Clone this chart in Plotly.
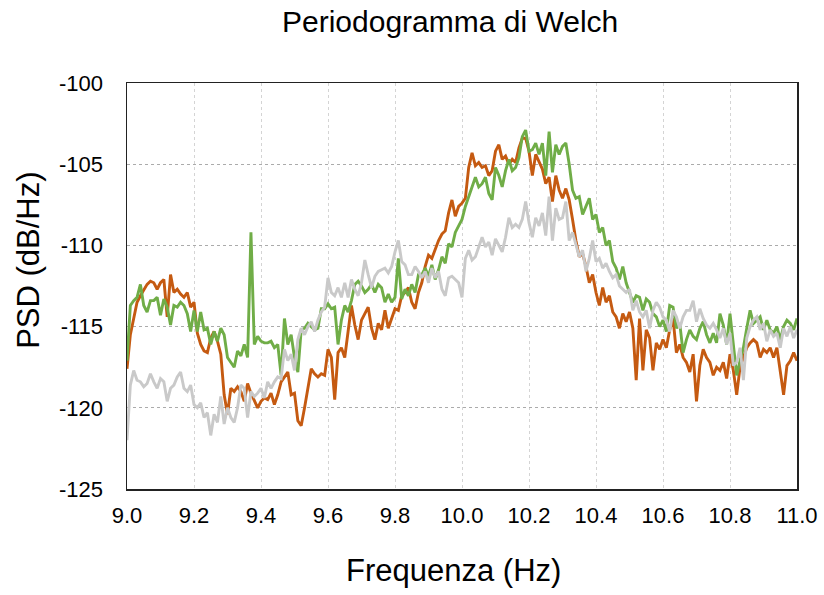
import numpy as np
import plotly.graph_objects as go

# Frequency bins (Hz), 0.01 Hz spacing
freq = np.round(np.linspace(9.0, 11.0, 201), 3)

# PSD values (dB/Hz)
psd_orange = [
    -117.6, -115.5, -114.5, -113.5, -113.1, -112.7, -112.4, -112.2, -112.3, -112.7,
    -112.3, -112.1, -114.4, -111.8, -112.9, -112.7, -113.0, -113.2, -112.9, -113.8,
    -113.5, -115.4, -116.1, -116.5, -116.6, -115.7, -115.3, -115.9, -116.7, -119.2,
    -120.4, -118.8, -119.0, -118.7, -119.0, -119.6, -118.5, -119.1, -119.6, -120.0,
    -119.6, -119.4, -119.5, -119.1, -119.8, -119.2, -118.4, -118.1, -117.8, -119.2,
    -119.1, -120.8, -121.1, -120.0, -118.8, -117.6, -117.9, -118.1, -117.9, -118.0,
    -116.4, -116.9, -119.5, -116.6, -116.3, -116.9, -115.3, -113.7, -114.9, -115.8,
    -114.6, -114.2, -113.8, -115.1, -115.8, -114.8, -115.2, -114.0, -115.1, -114.5,
    -113.9, -114.0, -113.1, -112.9, -112.6, -113.5, -113.9, -112.9, -112.3, -111.3,
    -110.6, -110.8, -110.2, -109.7, -109.3, -109.1, -108.0, -107.2, -108.2, -107.6,
    -107.4, -107.1, -105.2, -104.3, -105.1, -104.9, -105.2, -105.1, -105.7, -105.4,
    -104.2, -103.8, -104.7, -104.5, -105.0, -104.7, -104.9, -104.0, -103.4, -103.4,
    -104.2, -105.7, -104.4, -104.9, -105.3, -106.2, -105.8, -107.3, -105.7, -106.6,
    -107.1, -106.5, -107.2, -108.4, -109.7, -110.7, -110.5, -111.3, -112.3, -111.8,
    -112.9, -113.7, -112.6, -113.5, -113.1, -114.1, -114.4, -115.1, -114.2, -114.7,
    -114.1, -115.1, -118.3, -114.5, -117.7, -115.2, -115.7, -117.7, -116.0, -116.4,
    -115.8, -116.3, -115.2, -114.5, -116.6, -116.1, -116.9, -117.2, -117.8, -116.7,
    -119.6, -117.4, -116.4, -116.9, -117.2, -118.0, -117.5, -117.7, -117.2, -118.2,
    -116.7, -117.7, -119.2, -117.5, -116.9, -116.3, -116.0, -115.8, -116.0, -116.9,
    -116.4, -116.6, -116.3, -116.9, -116.3, -117.7, -119.2, -117.4, -117.1, -116.6,
    -117.1,
]

psd_green = [
    -117.1, -113.7, -113.4, -113.2, -112.4, -113.7, -114.1, -113.4, -113.4, -113.2,
    -114.3, -113.3, -113.8, -114.9, -113.7, -113.8, -113.5, -113.7, -114.2, -115.3,
    -114.0, -115.3, -114.1, -115.2, -115.1, -116.1, -115.3, -115.9, -115.1, -115.5,
    -116.9, -117.2, -117.5, -116.5, -116.8, -116.1, -116.9, -109.2, -116.1, -115.6,
    -115.9, -116.0, -116.0, -115.9, -116.3, -116.1, -118.0, -114.5, -116.1, -115.5,
    -116.9, -117.8, -115.2, -115.1, -114.8, -115.0, -115.2, -115.1, -113.9, -113.9,
    -113.6, -113.9, -113.8, -116.1, -114.6, -113.7, -114.1, -113.4, -112.4, -112.2,
    -112.5, -112.9, -112.7, -112.4, -112.9, -112.4, -112.6, -113.5, -113.0, -113.5,
    -113.2, -110.8, -113.3, -112.7, -113.1, -112.4, -112.9, -111.8, -111.8, -111.4,
    -111.9, -111.2, -112.1, -111.5, -110.7, -111.1, -109.9, -110.1, -109.2, -108.8,
    -108.4, -107.6, -107.0, -106.4, -105.8, -106.4, -106.2, -105.8, -106.8, -107.2,
    -105.2, -105.7, -106.4, -105.4, -104.7, -105.4, -105.2, -104.6, -103.3, -102.9,
    -104.2, -104.1, -103.7, -104.4, -103.7, -105.7, -103.0, -105.5, -103.8, -104.4,
    -103.9, -103.7, -105.0, -106.6, -107.1, -107.0, -108.1, -107.6, -107.1, -108.4,
    -108.1, -109.2, -108.9, -110.0, -109.7, -111.0, -111.4, -112.1, -111.3, -112.3,
    -112.9, -113.5, -113.1, -113.2, -114.0, -113.3, -113.5, -114.2, -114.4, -115.0,
    -114.6, -115.3, -113.7, -113.8, -115.1, -114.8, -116.6, -115.8, -115.2, -115.6,
    -115.8, -115.1, -114.7, -115.5, -116.0, -115.4, -116.0, -114.2, -114.9, -116.1,
    -114.2, -116.0, -118.0, -117.1, -116.3, -115.1, -114.0, -114.8, -114.6, -114.4,
    -115.2, -114.6, -115.2, -115.4, -115.0, -115.8, -115.0, -114.6, -114.8, -115.2,
    -114.5,
]

psd_gray = [
    -122.0, -118.6, -117.7, -118.3, -118.4, -118.7, -118.5, -117.9, -118.4, -118.8,
    -118.2, -118.4, -119.6, -118.8, -118.6, -118.1, -117.8, -118.8, -119.0, -118.6,
    -119.8, -120.0, -119.7, -120.6, -120.3, -121.7, -120.4, -120.9, -119.3, -121.0,
    -120.0, -120.6, -120.9, -120.0, -118.6, -118.8, -120.6, -119.0, -119.3, -119.1,
    -118.8, -119.4, -118.4, -118.8, -118.4, -118.1, -118.2, -116.4, -117.1, -116.7,
    -117.7, -115.8, -115.1, -115.5, -115.0, -114.7, -115.3, -114.6, -114.1, -113.8,
    -112.0, -112.9, -113.1, -112.6, -113.2, -112.3, -113.2, -112.1, -112.7, -113.1,
    -112.3, -110.9, -111.8, -112.6, -111.9, -111.6, -111.5, -111.4, -111.7, -111.3,
    -110.4, -109.7, -111.0, -111.2, -111.8, -111.8, -111.3, -111.6, -112.0, -111.6,
    -112.3, -111.4, -112.0, -111.6, -112.7, -113.1, -112.0, -111.9, -112.1, -112.3,
    -113.2, -110.8, -110.3, -110.9, -110.7, -110.1, -109.5, -110.1, -109.8, -110.6,
    -109.6, -110.0, -110.4, -109.5, -108.3, -108.9, -108.7, -108.9, -108.4, -107.3,
    -108.6, -109.5, -108.3, -108.8, -108.0, -109.4, -107.0, -109.7, -107.7, -108.4,
    -108.3, -107.3, -109.7, -109.2, -109.9, -110.7, -110.3, -111.6, -110.8, -109.7,
    -111.0, -110.8, -111.4, -111.1, -111.6, -112.0, -111.8, -112.5, -112.7, -112.9,
    -112.7, -114.0, -113.4, -114.1, -114.4, -114.0, -115.1, -114.0, -113.5, -113.8,
    -114.4, -114.6, -115.3, -114.0, -114.4, -115.1, -114.4, -114.0, -114.0, -113.4,
    -114.7, -113.9, -114.5, -114.9, -115.1, -114.8, -115.2, -115.7, -115.1, -116.1,
    -115.4, -117.4, -117.2, -116.3, -118.3, -115.7, -115.0, -114.6, -114.4, -115.2,
    -114.8, -115.9, -115.2, -115.6, -115.4, -116.3, -115.1, -115.6, -115.0, -115.7,
    -115.2,
]

x_tickvals = [9.0, 9.2, 9.4, 9.6, 9.8, 10.0, 10.2, 10.4, 10.6, 10.8, 11.0]
x_ticktext = ["9.0", "9.2", "9.4", "9.6", "9.8", "10.0", "10.2", "10.4", "10.6", "10.8", "11.0"]
y_tickvals = [-100, -105, -110, -115, -120, -125]
y_ticktext = ["-100", "-105", "-110", "-115", "-120", "-125"]

title_text = "Periodogramma di Welch"
x_label = "Frequenza (Hz)"
y_label = "PSD (dB/Hz)"

FONT = "Liberation Sans, Arial, Helvetica, sans-serif"

fig = go.Figure()
fig.add_trace(go.Scatter(x=freq, y=psd_orange, mode="lines",
                         line=dict(color="#C55A11", width=2.9), showlegend=False))
fig.add_trace(go.Scatter(x=freq, y=psd_green, mode="lines",
                         line=dict(color="#70AD47", width=2.9), showlegend=False))
fig.add_trace(go.Scatter(x=freq, y=psd_gray, mode="lines",
                         line=dict(color="#C9C9C9", width=2.9), showlegend=False))

fig.update_layout(
    width=824, height=595,
    margin=dict(l=127, r=27, t=83, b=106, autoexpand=False),
    paper_bgcolor="white", plot_bgcolor="white",
    font=dict(family=FONT, color="black"),
    showlegend=False,
    annotations=[
        dict(text=title_text, xref="paper", yref="paper", x=0.482, y=1.152,
             xanchor="center", yanchor="middle", showarrow=False,
             font=dict(size=30, family=FONT, color="black")),
        dict(text=x_label, xref="paper", yref="paper", x=0.488, y=-0.2,
             xanchor="center", yanchor="middle", showarrow=False,
             font=dict(size=31, family=FONT, color="black")),
        dict(text=y_label, xref="paper", yref="paper", x=-0.148, y=0.564,
             xanchor="center", yanchor="middle", showarrow=False, textangle=-90,
             font=dict(size=31, family=FONT, color="black")),
    ],
)

fig.update_xaxes(
    range=[9.0, 11.0], tickvals=x_tickvals, ticktext=x_ticktext,
    showgrid=True, gridcolor="#d4d4d4", griddash="dot", gridwidth=1,
    showline=True, linecolor="#222222", linewidth=1.5, mirror=True,
    ticks="", ticklabelstandoff=6, zeroline=False, automargin=False,
    tickfont=dict(size=22, family=FONT, color="black"),
)
fig.update_yaxes(
    range=[-125, -100], tickvals=y_tickvals, ticktext=y_ticktext,
    showgrid=True, gridcolor="#ababab", griddash="dot", gridwidth=1,
    showline=True, linecolor="#222222", linewidth=1.5, mirror=True,
    ticks="", ticklabelstandoff=18, zeroline=False, automargin=False,
    tickfont=dict(size=22, family=FONT, color="black"),
)

fig.write_html(
    "out.html",
    config={"displayModeBar": False, "staticPlot": True},
    post_script="document.documentElement.style.margin='0';document.body.style.margin='0';document.body.style.padding='0';",
)
